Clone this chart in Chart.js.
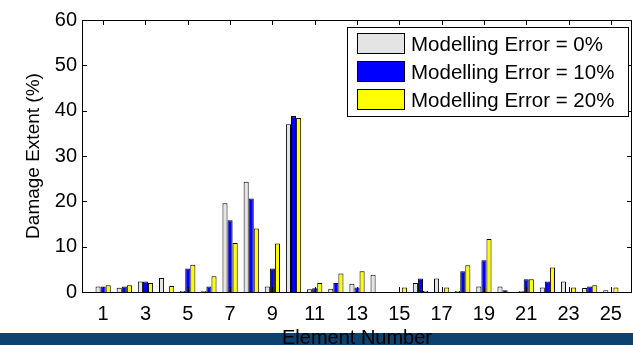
<!DOCTYPE html>
<html>
<head>
<meta charset="utf-8">
<script src="https://cdn.jsdelivr.net/npm/chart.js@4"></script>
<style>
  html, body { margin: 0; padding: 0; background: #fff; }
  canvas { display: block; }
</style>
</head>
<body>
<canvas id="damage-chart" width="633" height="345"></canvas>
<script>
// ======= data =======
const elements = [1, 2, 3, 4, 5, 6, 7, 8, 9, 10, 11, 12, 13, 14, 15, 16, 17, 18, 19, 20, 21, 22, 23, 24, 25];
const xTicks = [1, 3, 5, 7, 9, 11, 13, 15, 17, 19, 21, 23, 25];
const yTicks = [0, 10, 20, 30, 40, 50, 60];
const seriesLabels = ['Modelling Error = 0%', 'Modelling Error = 10%', 'Modelling Error = 20%'];
const err0 = [1.2, 0.95, 2.3, 3.1, 0.2, 0.2, 19.6, 24.3, 1.2, 37.0, 0.6, 0.7, 1.8, 3.8, 0, 2.0, 3.0, 0.2, 1.2, 1.2, 0.2, 1.0, 2.3, 0.9, 0.4];
const err10 = [1.2, 1.2, 2.3, 0, 5.2, 1.2, 15.8, 20.6, 5.2, 38.8, 0.8, 2.0, 1.0, 0, 0, 3.0, 0, 4.6, 7.0, 0.4, 2.8, 2.3, 0, 1.2, 0];
const err20 = [1.5, 1.5, 2.0, 1.3, 6.0, 3.5, 10.8, 14.0, 10.7, 38.4, 2.0, 4.1, 4.6, 0, 1.0, 0.2, 1.0, 5.9, 11.7, 0, 2.8, 5.4, 1.0, 1.5, 1.0];

const FONT = 'Liberation Sans, Arial, Helvetica, sans-serif';
Chart.defaults.font.family = FONT;
Chart.defaults.color = '#000';

function toPoints(values) {
  return elements.map((e, i) => ({ x: e, y: values[i] }));
}

function barSet(label, values, color) {
  return {
    label: label,
    data: toPoints(values),
    backgroundColor: color,
    borderColor: '#000',
    borderWidth: 1,
    categoryPercentage: 0.72,
    barPercentage: 1.0
  };
}

// dark band along the bottom of the picture
const band = {
  id: 'band',
  beforeDraw(chart) {
    const ctx = chart.ctx;
    ctx.save();
    ctx.fillStyle = '#0f416f';
    ctx.fillRect(0, 333, chart.width, chart.height - 333);
    ctx.restore();
  }
};

// matlab style box with inward ticks on all four sides
const boxFrame = {
  id: 'boxFrame',
  afterDatasetsDraw(chart) {
    const { ctx, chartArea: a, scales } = chart;
    ctx.save();
    ctx.strokeStyle = '#000';
    ctx.lineWidth = 1;
    ctx.strokeRect(Math.round(a.left) + 0.5, Math.round(a.top) + 0.5,
      Math.round(a.right - a.left) - 1, Math.round(a.bottom - a.top));
    ctx.beginPath();
    yTicks.forEach(v => {
      const y = Math.round(scales.y.getPixelForValue(v)) + 0.5;
      ctx.moveTo(a.left, y); ctx.lineTo(a.left + 5, y);
      ctx.moveTo(a.right, y); ctx.lineTo(a.right - 5, y);
    });
    xTicks.forEach(v => {
      const x = Math.round(scales.x.getPixelForValue(v)) + 0.5;
      ctx.moveTo(x, a.bottom); ctx.lineTo(x, a.bottom - 5);
      ctx.moveTo(x, a.top); ctx.lineTo(x, a.top + 5);
    });
    ctx.stroke();
    ctx.restore();
  }
};

// legend box in the upper right corner
const legendBox = {
  id: 'legendBox',
  afterDraw(chart) {
    const ctx = chart.ctx;
    ctx.save();
    ctx.fillStyle = '#fff';
    ctx.fillRect(347, 27, 282, 90);
    ctx.strokeStyle = '#000';
    ctx.lineWidth = 1;
    ctx.strokeRect(347.5, 27.5, 281, 89);
    ctx.font = '20.5px ' + FONT;
    ctx.textBaseline = 'middle';
    chart.data.datasets.forEach((ds, i) => {
      const ry = 33 + i * 28;
      ctx.fillStyle = ds.backgroundColor;
      ctx.fillRect(357, ry, 48, 21);
      ctx.strokeRect(357.5, ry + 0.5, 47, 20);
      ctx.fillStyle = '#000';
      ctx.fillText(ds.label, 411, ry + 12);
    });
    ctx.restore();
  }
};

new Chart(document.getElementById('damage-chart'), {
  type: 'bar',
  data: {
    datasets: [
      barSet(seriesLabels[0], err0, '#e4e4e4'),
      barSet(seriesLabels[1], err10, '#0000ff'),
      barSet(seriesLabels[2], err20, '#ffff00')
    ]
  },
  options: {
    responsive: false,
    animation: false,
    devicePixelRatio: 1,
    layout: { padding: { top: 20, right: 1, bottom: 0, left: 0 } },
    plugins: { legend: { display: false }, tooltip: { enabled: false } },
    scales: {
      x: {
        type: 'linear',
        min: 0,
        max: 26,
        offset: false,
        afterBuildTicks: s => { s.ticks = xTicks.map(v => ({ value: v })); },
        afterFit: s => { s.height = 53; },
        grid: { display: false, drawTicks: false, offset: false },
        border: { display: false },
        ticks: { font: { size: 20 }, padding: 10, maxRotation: 0, autoSkip: false, color: '#000' },
        title: { display: true, text: 'Element Number', font: { size: 20, lineHeight: 0.7 }, padding: 0, color: '#000' }
      },
      y: {
        min: 0,
        max: 60,
        afterBuildTicks: s => { s.ticks = yTicks.map(v => ({ value: v })); },
        afterFit: s => { s.width = 82; },
        grid: { display: false, drawTicks: false },
        border: { display: false },
        ticks: { font: { size: 20 }, padding: 5, color: '#000' },
        title: { display: true, text: 'Damage Extent (%)', font: { size: 19 }, padding: { top: 22, bottom: 0 }, color: '#000' }
      }
    }
  },
  plugins: [band, boxFrame, legendBox]
});
</script>
</body>
</html>
